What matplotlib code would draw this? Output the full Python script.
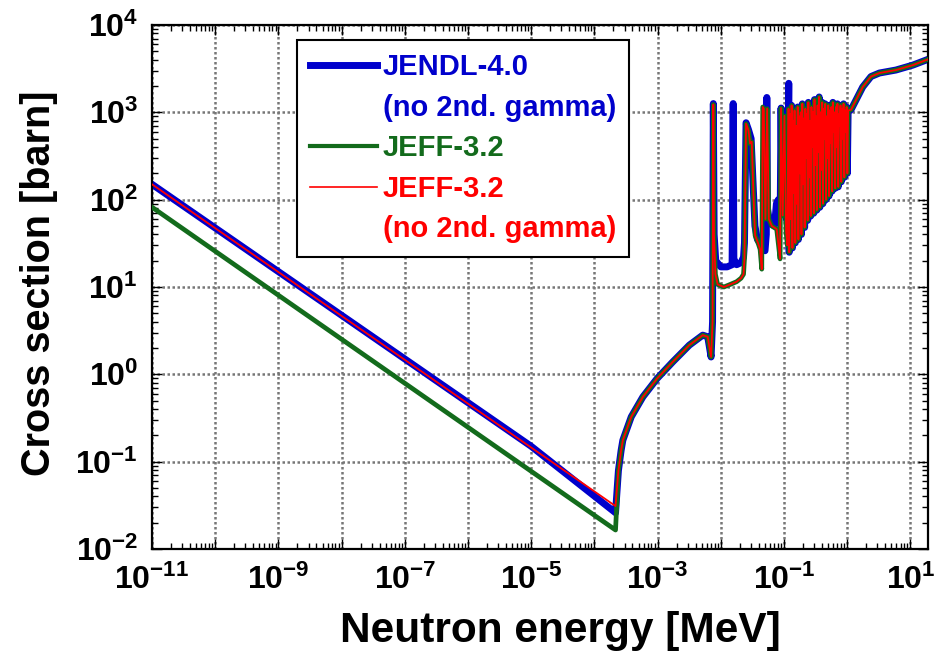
import matplotlib
matplotlib.use("Agg")
import matplotlib.pyplot as plt
from matplotlib.lines import Line2D
from matplotlib.ticker import LogLocator, NullFormatter, FuncFormatter
import numpy as np

# ---------------- data (energy in MeV, cross section in barn) ----------------
# thermal / 1/v region, each library
jendl_low_E = [1e-11, 1e-5, 2.16e-4]
jendl_low_sig = [150, 0.15, 0.026]
jeff_low_E = [1e-11, 2.16e-4]
jeff_low_sig = [82, 0.0165]
jeffng_low_E = [1e-11, 2.16e-4]
jeffng_low_sig = [150, 0.031]

# common rise above threshold (all curves coincide)
rise_E = [2.40e-4, 2.65e-4, 2.82e-4, 3.83e-4, 5.85e-4, 9.86e-4, 1.74e-3,
          3.18e-3, 5.18e-3, 6.21e-3, 7.02e-3]
rise_sig = [0.079, 0.135, 0.176, 0.326, 0.552, 0.898, 1.39,
            2.16, 2.81, 2.69, 1.58]

# resolved resonances, JENDL-4.0
jendl_res_E = [7.41e-3, 7.62e-3, 7.85e-3, 8.32e-3, 0.0100, 0.0126, 0.0151, 0.0157,
               0.0161, 0.0178, 0.0209, 0.0229, 0.0237, 0.0251, 0.0275, 0.0302,
               0.0324, 0.0347, 0.0380, 0.0417, 0.0457, 0.0501, 0.0525, 0.0535,
               0.0547, 0.0575, 0.0646, 0.0708, 0.0759, 0.0813, 0.0871, 0.0899,
               0.0933, 0.1016, 0.1072, 0.113, 0.119, 0.121]
jendl_res_sig = [4.0, 1260, 40, 20, 17, 17, 18, 1260,
                 21, 18, 19, 22, 32, 760, 630, 500,
                 160, 50, 35, 32, 28, 26, 40, 1480,
                 80, 63, 52, 50, 90, 100, 70, 1120,
                 80, 910, 63, 56, 2150, 63]

# resolved resonances, JEFF-3.2
jeff_res_E = [7.41e-3, 7.62e-3, 7.80e-3, 8.22e-3, 8.91e-3, 0.0112, 0.0141, 0.0178,
              0.0209, 0.0229, 0.0237, 0.0251, 0.0274, 0.0291, 0.0309, 0.0328,
              0.0349, 0.0394, 0.0419, 0.0445, 0.0461, 0.0479, 0.0508, 0.0541,
              0.0575, 0.0640, 0.0767, 0.0867, 0.0899, 0.0955, 0.1016, 0.108,
              0.1132]
jeff_res_sig = [4.0, 1230, 40, 14, 10.7, 10.0, 10.7, 11.5,
                12.6, 14, 21, 740, 620, 440, 460, 120,
                39, 31, 27, 16, 1150, 1100, 60, 1100,
                60, 50, 46, 21, 1120, 66, 910, 43,
                30]

# dense resonance forest 0.1 - 1 MeV (both libraries)
forest_E = [0.118, 0.121, 0.125, 0.128, 0.132, 0.136, 0.139, 0.143, 0.147, 0.151,
            0.156, 0.160, 0.165, 0.169, 0.174, 0.179, 0.184, 0.189, 0.195, 0.200,
            0.206, 0.212, 0.218, 0.224, 0.230, 0.237, 0.243, 0.250, 0.257, 0.265,
            0.272, 0.280, 0.288, 0.296, 0.304, 0.313, 0.322, 0.331, 0.340, 0.350,
            0.360, 0.370, 0.380, 0.391, 0.402, 0.413, 0.425, 0.437, 0.449, 0.462,
            0.475, 0.488, 0.502, 0.516, 0.531, 0.546, 0.561, 0.577, 0.593, 0.610,
            0.627, 0.645, 0.663, 0.682, 0.701, 0.721, 0.741, 0.762, 0.784, 0.806,
            0.828, 0.852, 0.876, 0.900, 0.926, 0.952, 0.979, 1.006, 1.035]
forest_sig = [1100, 25, 950, 60, 1200, 28, 800, 120, 1050, 32,
              700, 90, 1150, 35, 900, 200, 1000, 40, 1250, 150,
              850, 48, 1100, 300, 950, 58, 1300, 180, 800, 65,
              1150, 400, 1000, 70, 1400, 250, 900, 76, 1200, 350,
              1500, 82, 1000, 220, 1300, 90, 1100, 500, 1250, 100,
              900, 300, 1200, 110, 1050, 450, 1150, 125, 1300, 600,
              1000, 135, 1150, 400, 1250, 140, 950, 700, 1200, 160,
              1100, 500, 1250, 180, 1050, 600, 1150, 200, 1050]

# smooth high-energy part (all curves coincide)
high_E = [1.15, 1.38, 1.76, 2.38, 3.24, 5.9, 10.9, 20.0]
high_sig = [1070, 1380, 1950, 2570, 2820, 3050, 3470, 4100]

legend_rows = ["JENDL-4.0", "(no 2nd. gamma)", "JEFF-3.2", "JEFF-3.2", "(no 2nd. gamma)"]

BLUE = "#0000cc"
GREEN = "#136b1c"
RED = "#ff0000"

# ---------------- styling ----------------
plt.rcParams["font.family"] = ["Liberation Sans", "DejaVu Sans"]
plt.rcParams["font.weight"] = "bold"
plt.rcParams["mathtext.fontset"] = "custom"
plt.rcParams["mathtext.rm"] = "Liberation Sans:bold"
plt.rcParams["mathtext.it"] = "Liberation Sans:bold"
plt.rcParams["mathtext.bf"] = "Liberation Sans:bold"
plt.rcParams["mathtext.sf"] = "Liberation Sans:bold"
plt.rcParams["mathtext.default"] = "rm"

fig = plt.figure(figsize=(9.39, 6.61), dpi=100)
ax = fig.add_axes([152 / 939, 1 - 549 / 661, 776 / 939, 524 / 661])

jendl_E = jendl_low_E + rise_E + jendl_res_E + forest_E + high_E
jendl_sig = jendl_low_sig + rise_sig + jendl_res_sig + forest_sig + high_sig
jeff_E = jeff_low_E + rise_E + jeff_res_E + forest_E + high_E
jeff_sig = jeff_low_sig + rise_sig + jeff_res_sig + forest_sig + high_sig
jeffng_E = jeffng_low_E + rise_E + jeff_res_E + forest_E + high_E
jeffng_sig = jeffng_low_sig + rise_sig + jeff_res_sig + forest_sig + high_sig

ax.plot(jendl_E, jendl_sig, color=BLUE, lw=5.0, zorder=2, solid_joinstyle="round")
ax.plot(jeff_E, jeff_sig, color=GREEN, lw=3.4, zorder=3, solid_joinstyle="round")
ax.plot(jeffng_E, jeffng_sig, color=RED, lw=1.3, zorder=4)

ax.set_xscale("log")
ax.set_yscale("log")
ax.set_xlim(1e-11, 19)
ax.set_ylim(1e-2, 1e4)

ax.xaxis.set_major_locator(LogLocator(base=10, subs=(1.0,), numticks=30))
ax.yaxis.set_major_locator(LogLocator(base=10, subs=(1.0,), numticks=30))
ax.xaxis.set_minor_locator(LogLocator(base=10, subs=np.arange(2, 10), numticks=300))
ax.yaxis.set_minor_locator(LogLocator(base=10, subs=np.arange(2, 10), numticks=300))
ax.xaxis.set_minor_formatter(NullFormatter())
ax.yaxis.set_minor_formatter(NullFormatter())


def xfmt(v, pos):
    e = int(round(np.log10(v)))
    return r"$10^{%d}$" % e if e % 2 == 1 else ""


def yfmt(v, pos):
    e = int(round(np.log10(v)))
    return r"$10^{%d}$" % e


ax.xaxis.set_major_formatter(FuncFormatter(xfmt))
ax.yaxis.set_major_formatter(FuncFormatter(yfmt))

ax.tick_params(which="both", direction="in", top=True, right=True, width=1.0,
               labelsize=23)
ax.tick_params(which="major", length=7)
ax.tick_params(which="minor", length=4)
ax.tick_params(axis="x", pad=11)
ax.tick_params(axis="y", pad=10)

ax.grid(which="major", color="#777777", linestyle=(0, (1, 1)), linewidth=1.8)
ax.set_axisbelow(True)
for sp in ax.spines.values():
    sp.set_linewidth(1.6)

ax.set_xlabel("Neutron energy [MeV]", fontsize=30.5, fontweight="bold")
ax.set_ylabel("Cross section [barn]", fontsize=28.5, fontweight="bold")
ax.xaxis.set_label_coords(0.526, -0.118)
ax.yaxis.set_label_coords(-0.121, 0.507)

handles = [Line2D([], [], color=BLUE, lw=5.0),
           Line2D([], [], color="none"),
           Line2D([], [], color=GREEN, lw=3.0),
           Line2D([], [], color=RED, lw=1.2),
           Line2D([], [], color="none")]
leg = ax.legend(handles, legend_rows, loc="upper left",
                bbox_to_anchor=(0.187, 0.971), bbox_transform=ax.transAxes,
                borderaxespad=0, prop={"family": "Liberation Sans", "weight": "bold", "size": 21},
                handlelength=2.3, handletextpad=0.18, labelspacing=0.43, borderpad=0.45,
                frameon=True, fancybox=False, edgecolor="black", framealpha=1)
leg.get_frame().set_linewidth(1.5)
for t, c in zip(leg.get_texts(), [BLUE, BLUE, GREEN, RED, RED]):
    t.set_color(c)
leg.set_zorder(10)

fig.savefig("out.png", dpi=100)
